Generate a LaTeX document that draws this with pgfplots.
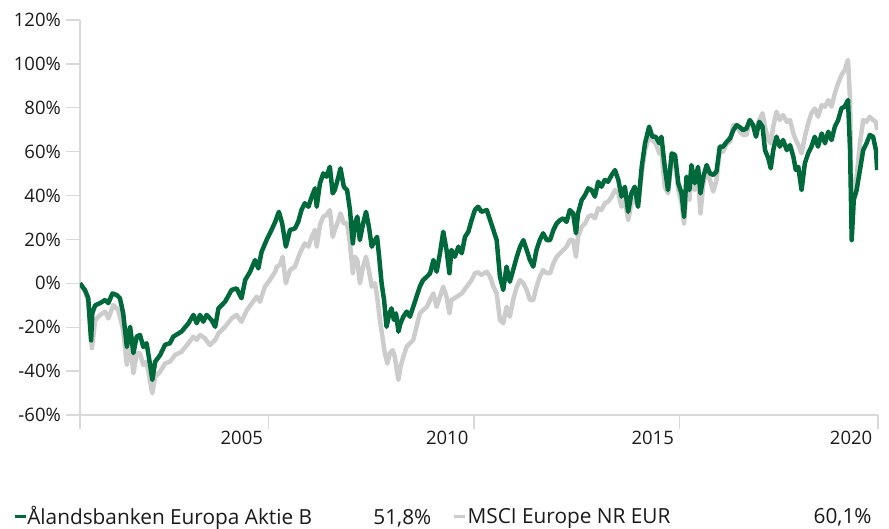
\documentclass[border=0pt]{standalone}
\usepackage{fontspec}
\setmainfont{Open Sans}
\usepackage{pgfplots}
\usepackage{pgfplotstable}
\pgfplotsset{compat=1.18}
\definecolor{fundgreen}{HTML}{00693C}
\definecolor{idxgray}{HTML}{CCCCCC}
\definecolor{axisgray}{HTML}{D9D9D9}
\definecolor{txt}{HTML}{1A1A1A}

\pgfplotstableread{
year value
2001.41 0
2001.53 -3
2001.61 -6.7
2001.68 -26
2001.71 -13.5
2001.78 -10
2001.90 -9
2002.02 -7.6
2002.10 -9
2002.20 -4.6
2002.30 -5.3
2002.38 -6.7
2002.46 -13.5
2002.55 -29
2002.63 -19.8
2002.71 -31.8
2002.79 -24.3
2002.87 -23.5
2002.95 -29
2003.03 -27.3
2003.11 -36.4
2003.17 -44
2003.24 -35.7
2003.36 -32.7
2003.48 -28
2003.60 -27.3
2003.68 -24.3
2003.88 -22
2004.05 -18.2
2004.17 -14.4
2004.25 -18.2
2004.33 -14.4
2004.41 -17.5
2004.49 -14.4
2004.61 -16.7
2004.70 -19.8
2004.78 -11.4
2004.94 -8.4
2005.10 -3
2005.22 -2.3
2005.34 -6.8
2005.43 1.5
2005.55 5.3
2005.67 10.6
2005.75 6.8
2005.83 14.4
2005.95 19.7
2006.07 24.3
2006.16 28
2006.25 32.6
2006.33 27.3
2006.42 16.7
2006.52 24.3
2006.64 25
2006.72 28
2006.80 33.4
2006.88 36.5
2006.97 34.9
2007.05 39.5
2007.13 43.3
2007.17 34.9
2007.25 45.6
2007.33 50.1
2007.41 48.6
2007.49 53.1
2007.56 41
2007.61 42.5
2007.70 48.6
2007.75 52.4
2007.83 44
2007.91 42.5
2007.98 33.4
2008.05 18.2
2008.10 27.3
2008.16 30.4
2008.22 19.7
2008.30 27.3
2008.37 32.6
2008.44 25.8
2008.51 16.7
2008.59 19.7
2008.64 21.2
2008.69 12.1
2008.75 0
2008.81 -7.6
2008.87 -19.8
2008.94 -13.7
2008.99 -11.4
2009.05 -16.7
2009.10 -13.7
2009.16 -22
2009.21 -18.2
2009.28 -15.2
2009.36 -12.9
2009.44 -15.2
2009.52 -10.7
2009.60 -6.1
2009.68 -1.5
2009.76 1.5
2009.85 3
2009.93 4.6
2010.01 10.6
2010.09 5.3
2010.17 13.7
2010.25 23.5
2010.33 15.2
2010.40 4.6
2010.45 15.2
2010.53 12.1
2010.62 16.7
2010.70 13.7
2010.78 21.2
2010.86 23.5
2010.94 28.8
2011.02 33.4
2011.10 34.9
2011.18 32.6
2011.31 33.4
2011.39 28.8
2011.47 24.3
2011.55 19.7
2011.63 3
2011.71 -3
2011.79 7.6
2011.87 0.7
2011.95 6
2012.04 12.1
2012.12 16.7
2012.20 19.7
2012.28 15.2
2012.36 10.6
2012.44 7.6
2012.52 15.2
2012.60 19.7
2012.68 22.8
2012.77 19.7
2012.85 19.7
2012.93 24.3
2013.01 27.3
2013.09 28.8
2013.17 29.6
2013.25 28
2013.33 33.4
2013.41 31.9
2013.48 22.8
2013.53 31.9
2013.62 38
2013.70 40.2
2013.78 43.3
2013.86 42.5
2013.94 39.5
2014.02 46.3
2014.10 44
2014.18 47.1
2014.26 46.3
2014.35 49.4
2014.43 51.6
2014.51 47.1
2014.59 39.5
2014.67 44
2014.75 32.6
2014.83 41
2014.91 44
2014.99 34.9
2015.08 53.1
2015.16 63.8
2015.26 71.4
2015.34 66.8
2015.42 66.8
2015.51 63.8
2015.56 66.8
2015.64 53.1
2015.72 42.5
2015.81 59.2
2015.89 58.5
2015.97 45.6
2016.05 41
2016.11 30.4
2016.17 48.6
2016.24 42.5
2016.29 53.9
2016.37 45.6
2016.45 53.1
2016.51 41
2016.58 48.6
2016.66 53.9
2016.74 50.1
2016.82 49.4
2016.90 50.9
2016.98 62.3
2017.06 62.3
2017.15 64.5
2017.23 66.1
2017.31 69.8
2017.39 72.1
2017.47 71.1
2017.55 69.8
2017.63 70.6
2017.71 74.4
2017.79 72.1
2017.86 66.8
2017.94 73.6
2018.02 71.4
2018.08 60.7
2018.16 57
2018.22 52.4
2018.28 60.7
2018.36 66.8
2018.44 62.3
2018.52 65.3
2018.61 60.7
2018.69 63
2018.77 57.7
2018.83 51.6
2018.89 53.1
2018.97 42.5
2019.05 54.7
2019.13 59.2
2019.21 62.3
2019.29 66.8
2019.37 62.3
2019.46 68.3
2019.54 63.8
2019.62 69.1
2019.70 65.3
2019.78 71.4
2019.86 74.4
2019.94 79.7
2020.02 80.5
2020.10 83.5
2020.15 60.7
2020.19 19.7
2020.24 38
2020.31 42.5
2020.39 51.6
2020.47 60.7
2020.55 63.8
2020.63 67.6
2020.71 66.8
2020.78 60.7
2020.81 51.6
}\fund

\pgfplotstableread{
year value
2001.41 0
2001.53 -3.5
2001.61 -8
2001.70 -29.5
2001.78 -16.7
2001.90 -14.4
2002.02 -12.9
2002.10 -16
2002.22 -9.9
2002.34 -12.2
2002.46 -21.3
2002.55 -37.2
2002.63 -27.3
2002.71 -41
2002.79 -31.9
2002.87 -31.9
2002.95 -37.2
2003.03 -35.7
2003.11 -44
2003.17 -50.1
2003.24 -42.5
2003.36 -40.3
2003.48 -36.5
2003.60 -35.7
2003.72 -32.7
2003.88 -31.2
2004.05 -27.3
2004.17 -24.3
2004.25 -25.8
2004.33 -23.5
2004.45 -25.1
2004.57 -28.1
2004.70 -25.8
2004.78 -22.8
2004.94 -19.8
2005.10 -16
2005.22 -14.4
2005.34 -17.5
2005.47 -12.2
2005.59 -9.1
2005.71 -6.1
2005.79 -8.4
2005.91 -1.5
2006.03 1.5
2006.16 5.3
2006.20 7.6
2006.28 8.4
2006.34 12.1
2006.42 0
2006.52 6
2006.64 7.6
2006.76 13.7
2006.88 18.2
2006.97 16.7
2007.05 21.2
2007.13 24.3
2007.17 16.7
2007.25 26.6
2007.33 30.4
2007.41 31.1
2007.49 33.4
2007.56 21.2
2007.61 24.3
2007.70 28.8
2007.75 31.9
2007.83 27.3
2007.91 27.3
2007.98 18.2
2008.05 4.6
2008.10 12.1
2008.16 10.6
2008.22 0
2008.30 7.6
2008.37 12.1
2008.44 6
2008.51 -1.5
2008.59 0
2008.64 -6.1
2008.71 -16.7
2008.78 -25.8
2008.83 -31.9
2008.89 -36.5
2008.95 -31.9
2009.02 -30.4
2009.07 -33.4
2009.12 -39.5
2009.16 -44
2009.21 -38
2009.28 -33.4
2009.36 -28.9
2009.44 -27.3
2009.52 -25.8
2009.60 -19.8
2009.68 -13.7
2009.76 -12.2
2009.85 -10.7
2009.93 -7.6
2010.01 -4.6
2010.09 -10.7
2010.17 -6.1
2010.25 -1.5
2010.33 -6.1
2010.40 -13.7
2010.45 -7.6
2010.58 -6.1
2010.70 -4.6
2010.82 -1.5
2010.94 1.5
2011.02 4.6
2011.10 5
2011.18 3.8
2011.31 5.3
2011.39 3
2011.47 -1.5
2011.55 -4.6
2011.63 -16.7
2011.71 -18.2
2011.79 -10.7
2011.87 -15.2
2011.95 -7.6
2012.04 -1.5
2012.12 1.5
2012.20 0
2012.28 -3
2012.36 -7.6
2012.44 -7.6
2012.52 -1.5
2012.60 3
2012.68 6
2012.77 4.6
2012.85 4.6
2012.93 9.1
2013.01 12.1
2013.09 13.7
2013.17 15.2
2013.25 16.7
2013.33 19.7
2013.41 19.7
2013.48 12.1
2013.53 21.2
2013.62 25.8
2013.70 27.3
2013.78 30.4
2013.86 31.1
2013.94 29.6
2014.02 34.2
2014.10 33.4
2014.18 36.5
2014.26 37.2
2014.35 39.5
2014.43 42.5
2014.51 41
2014.59 34.9
2014.67 38
2014.75 28.8
2014.83 36.5
2014.91 38
2014.99 34.9
2015.08 50.1
2015.16 60.7
2015.26 66.8
2015.34 65.3
2015.42 63.8
2015.51 59.2
2015.56 60.7
2015.64 44
2015.72 41
2015.81 56.2
2015.89 55
2015.97 42.5
2016.05 36.5
2016.11 27.3
2016.17 42.5
2016.24 38
2016.29 50.1
2016.37 42.5
2016.45 48.6
2016.51 31.9
2016.58 45.6
2016.66 51.6
2016.74 47.1
2016.82 41.8
2016.90 47.1
2016.98 60.7
2017.06 60
2017.15 63.8
2017.23 64.5
2017.31 72.1
2017.39 71.4
2017.47 69.1
2017.55 67.6
2017.63 67.6
2017.71 74.4
2017.79 72.1
2017.86 69.8
2017.94 74.4
2018.02 77.5
2018.08 71.4
2018.16 65.3
2018.22 63.8
2018.28 71.4
2018.36 78.2
2018.44 74.4
2018.52 76.7
2018.61 73.6
2018.69 74.4
2018.77 68.3
2018.83 65.3
2018.89 63
2018.97 59.2
2019.05 66.8
2019.13 72.9
2019.21 77.5
2019.29 79.7
2019.37 75.9
2019.46 81.2
2019.54 80.5
2019.62 83.5
2019.70 80.5
2019.78 86.6
2019.86 91.1
2019.94 94.9
2020.02 97.2
2020.10 101.8
2020.15 83.5
2020.19 30.4
2020.24 42.5
2020.31 48.6
2020.39 63.8
2020.47 74.4
2020.55 73.6
2020.63 75.9
2020.71 74.4
2020.78 73.6
2020.81 69.8
}\index

\begin{document}
\begin{tikzpicture}
\useasboundingbox (-80pt,-114pt) rectangle (809pt,415pt);
\begin{axis}[
  at={(0pt,0pt)}, anchor=south west,
  scale only axis, width=798pt, height=395pt,
  xmin=2001.41, xmax=2020.83, ymin=-60, ymax=120,
  axis lines*=left,
  axis line style={draw=axisgray, line width=1.3pt},
  every tick/.style={draw=axisgray, line width=1.3pt},
  tick align=outside,
  major tick length=14pt,
  ytick={-60,-40,...,120},
  yticklabel={\pgfmathprintnumber{\tick}\%},
  /pgf/number format/assume math mode=true,
  xtick={2001.41,2006,2011,2016,2020.83},
  xticklabels={,2005,2010,2015,2020},
  ticklabel style={font=\fontsize{18.5}{21}\selectfont, text=txt, inner sep=0pt},
  y tick label style={anchor=east, xshift=-5pt},
  x tick label style={anchor=north east, xshift=-5.5pt, yshift=-2pt},
  legend columns=2,
  legend style={at={(axis description cs:0,0)}, anchor=west,
    xshift=-67pt, yshift=-101.5pt, draw=none, fill=none,
    inner sep=0pt, outer sep=0pt, column sep=0pt,
    font=\fontsize{20.8}{24}\selectfont, text=txt,
    nodes={inner sep=0pt}},
  legend cell align=left,
  legend image code/.code={\draw[line width=3.3pt] (0pt,0pt) -- (11pt,0pt);},
]
\addplot[draw=idxgray, line width=4.5pt, line join=round, forget plot] table[x=year, y=value] {\index};
\addplot[draw=fundgreen, line width=4.5pt, line join=round, forget plot] table[x=year, y=value] {\fund};
\addlegendimage{draw=fundgreen}
\addlegendentry{\hspace{0pt}\makebox[425pt][l]{\makebox[404pt][l]{Ålandsbanken Europa Aktie B\hfill 51,8\%}}}
\addlegendimage{draw=idxgray}
\addlegendentry{\hspace{1pt}\makebox[404pt][l]{MSCI Europe NR EUR\hfill 60,1\%}}
\end{axis}
\end{tikzpicture}
\end{document}
